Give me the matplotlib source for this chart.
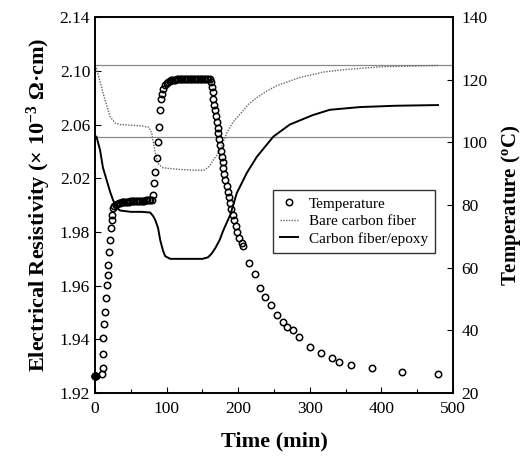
import numpy as np
import matplotlib.pyplot as plt
from matplotlib.lines import Line2D

plt.rcParams['font.family'] = 'Liberation Serif'
plt.rcParams['mathtext.fontset'] = 'custom'
plt.rcParams['mathtext.rm'] = 'Liberation Serif'
plt.rcParams['mathtext.bf'] = 'Liberation Serif:bold'
plt.rcParams['mathtext.default'] = 'bf'

# %% data
temp_time = [0, 0.4, 0.8, 9.3, 10.7, 10.7, 11.6, 12.6, 14, 15.4, 16.3, 17.7, 18.6, 20, 21, 22, 23.3, 23.7, 25.6,
             27, 29, 31, 33, 35, 37, 39, 41, 43, 45, 47, 49, 51, 53, 55, 57, 59, 61, 63, 65, 67, 69, 71, 73, 75, 77, 79,
             80.5, 82.4, 83.8, 86.2, 88.5, 89.8, 90.8, 91.8, 93, 95.4, 97.8,
             100, 102, 104, 106, 108, 110, 112, 114, 116, 118, 120, 122, 124, 126, 128, 130, 132, 134, 136, 138,
             140, 142, 144, 146, 148, 150, 152, 154, 156, 158, 160,
             161.6, 163.0, 164.4, 165.3, 166.7, 167.6, 169.0, 170.0, 171.4, 172.3, 173.6, 174.6, 176.0, 176.9, 178.4,
             179.2, 180.6, 182.0, 183.9, 185.3, 187.2, 188.5, 190.4, 192.3, 194.1, 196.5, 198.7, 201.5, 204.9, 207.1,
             215, 223, 230, 238, 246, 254, 262, 268, 276, 285, 300, 315, 331, 341, 357, 387, 429, 479]
temp_val = [25.4, 25.4, 25.5, 26.0, 28.1, 32.5, 37.6, 42.2, 45.9, 50.4, 54.6, 57.8, 61.0, 65.2, 69.0, 72.6, 75.3, 76.9, 79.0,
            79.6, 80.2, 80.5, 80.7, 80.8, 80.9, 81.0, 81.0, 81.1, 81.1, 81.1, 81.2, 81.2, 81.2, 81.3, 81.3, 81.3, 81.3,
            81.4, 81.4, 81.4, 81.4, 81.5, 81.5, 81.5, 81.5, 81.6,
            83.3, 87.0, 90.7, 95.0, 100.3, 105.0, 110.4, 114.0, 115.6, 117.2, 118.3,
            118.9, 119.3, 119.6, 119.8, 119.9, 120.0, 120.0, 120.1, 120.1, 120.1, 120.2, 120.2, 120.2, 120.2, 120.3,
            120.3, 120.3, 120.3, 120.3, 120.3, 120.4, 120.4, 120.4, 120.4, 120.4, 120.4, 120.4, 120.4, 120.4, 120.4, 120.3,
            119.4, 117.8, 116.0, 114.0, 112.1, 110.3, 108.5, 106.6, 104.7, 102.9, 101.1, 99.2, 97.4, 95.5, 93.7,
            91.8, 89.8, 88.1, 86.2, 84.3, 82.5, 80.6, 78.8, 76.9, 75.1, 73.2, 71.4, 69.5, 67.9, 66.8,
            61.4, 57.9, 53.4, 50.6, 48.0, 44.8, 42.6, 41.0, 40.0, 37.8, 34.6, 32.7, 31.1, 29.9, 28.9, 28.0, 26.7, 26.0]

bare_time = [0, 2, 7, 14, 21, 28, 35, 50, 65, 75, 79, 84, 88, 94, 100, 120, 140, 152, 156, 160, 165, 170, 175,
             184, 193, 203, 214, 226, 240, 254, 270, 286, 318, 350, 400, 440, 479]
bare_val = [2.104, 2.102, 2.092, 2.078, 2.066, 2.061, 2.060, 2.0595, 2.059, 2.058, 2.054, 2.039, 2.031, 2.028,
            2.0275, 2.0265, 2.026, 2.026, 2.0275, 2.029, 2.0335, 2.037, 2.041, 2.054, 2.062, 2.068, 2.075, 2.080,
            2.085, 2.089, 2.092, 2.095, 2.099, 2.101, 2.103, 2.1035, 2.104]

epoxy_time = [0, 2, 7, 11, 16, 21, 25, 30, 35, 50, 65, 77, 81, 84, 88, 91, 95, 98, 105, 120, 133, 150, 158, 163,
              168, 174, 179, 184, 189, 198, 212, 226, 249, 272, 304, 328, 370, 420, 479]
epoxy_val = [2.051, 2.051, 2.041, 2.028, 2.019, 2.010, 2.004, 1.998, 1.996, 1.995, 1.995, 1.9945, 1.992, 1.989,
             1.983, 1.977, 1.973, 1.971, 1.970, 1.970, 1.970, 1.970, 1.9706, 1.972, 1.974, 1.977, 1.981, 1.987,
             1.993, 2.009, 2.024, 2.036, 2.051, 2.060, 2.067, 2.071, 2.073, 2.074, 2.0745]

ref_levels = [2.104, 2.051]

res_ticks = [1.92, 1.94, 1.96, 1.98, 2.02, 2.06, 2.10, 2.14]
temp_ticks = [20, 40, 60, 80, 100, 120, 140]
time_ticks = [0, 100, 200, 300, 400, 500]

# the left axis labels are evenly spaced but step 0.02 below 1.98 and 0.04 above
knots_v = [1.92, 1.98, 2.14]
knots_p = [0, 3, 7]


def fwd(v):
    return np.interp(v, knots_v, knots_p)


def inv(p):
    return np.interp(p, knots_p, knots_v)


# %%
fig = plt.figure(figsize=(5.28, 4.62), dpi=100)
ax = fig.add_axes([0.180, 0.149, 0.678, 0.814])
ax.set_yscale('function', functions=(fwd, inv))
ax.set_ylim(1.92, 2.14)
ax.set_xlim(0, 500)

for lv in ref_levels:
    ax.axhline(lv, color='#8a8a8a', lw=0.9)

ax.plot(bare_time, bare_val, color='#666666', lw=1.0, ls=(0, (1, 1)))
ax.plot(epoxy_time, epoxy_val, color='black', lw=1.4)

ax.set_yticks(res_ticks)
ax.set_yticklabels(['%.2f' % v for v in res_ticks])
ax.yaxis.set_minor_locator(plt.NullLocator())
ax.set_xticks(time_ticks)
ax.set_xticks([50, 150, 250, 350, 450], minor=True)
ax.tick_params(direction='in', labelsize=12.5, length=4, width=0.8)
ax.tick_params(axis='x', pad=6)
ax.tick_params(which='minor', direction='in', length=3, width=0.8)

ax2 = ax.twinx()
ax2.set_ylim(20, 140)
ax2.set_yticks(temp_ticks)
ax2.tick_params(direction='in', labelsize=12.5, length=4, width=0.8, pad=6)
ax2.plot(temp_time, temp_val, ls='none', marker='o', ms=4.6, mfc='none', mec='black', mew=1.1, clip_on=False)
# the first reading shows as a solid dot
ax2.plot(temp_time[:1], temp_val[:1], ls='none', marker='o', ms=5, color='black', clip_on=False)

for a in (ax, ax2):
    for s in a.spines.values():
        s.set_linewidth(1.2)

ax.set_xlabel('Time (min)', fontsize=16, fontweight='bold', labelpad=10)
ax.set_ylabel('Electrical Resistivity (× 10$^{-3}$ Ω·cm)', fontsize=16, fontweight='bold', labelpad=5)
ax2.set_ylabel('Temperature ($^{o}$C)', fontsize=15, fontweight='bold', labelpad=8)

handles = [Line2D([], [], ls='none', marker='o', ms=4.6, mfc='none', mec='black', mew=1.1),
           Line2D([], [], color='#666666', lw=1.0, ls=(0, (1, 1))),
           Line2D([], [], color='black', lw=1.4)]
leg = ax2.legend(handles, ['Temperature', 'Bare carbon fiber', 'Carbon fiber/epoxy'],
                 loc='upper left', bbox_to_anchor=(0.489, 0.548), fontsize=11, frameon=True,
                 fancybox=False, edgecolor='black', handlelength=1.2, handletextpad=0.7,
                 borderpad=0.45, labelspacing=0.25, borderaxespad=0.2)
leg.get_frame().set_linewidth(1.0)

plt.savefig('out.png', dpi=100)
